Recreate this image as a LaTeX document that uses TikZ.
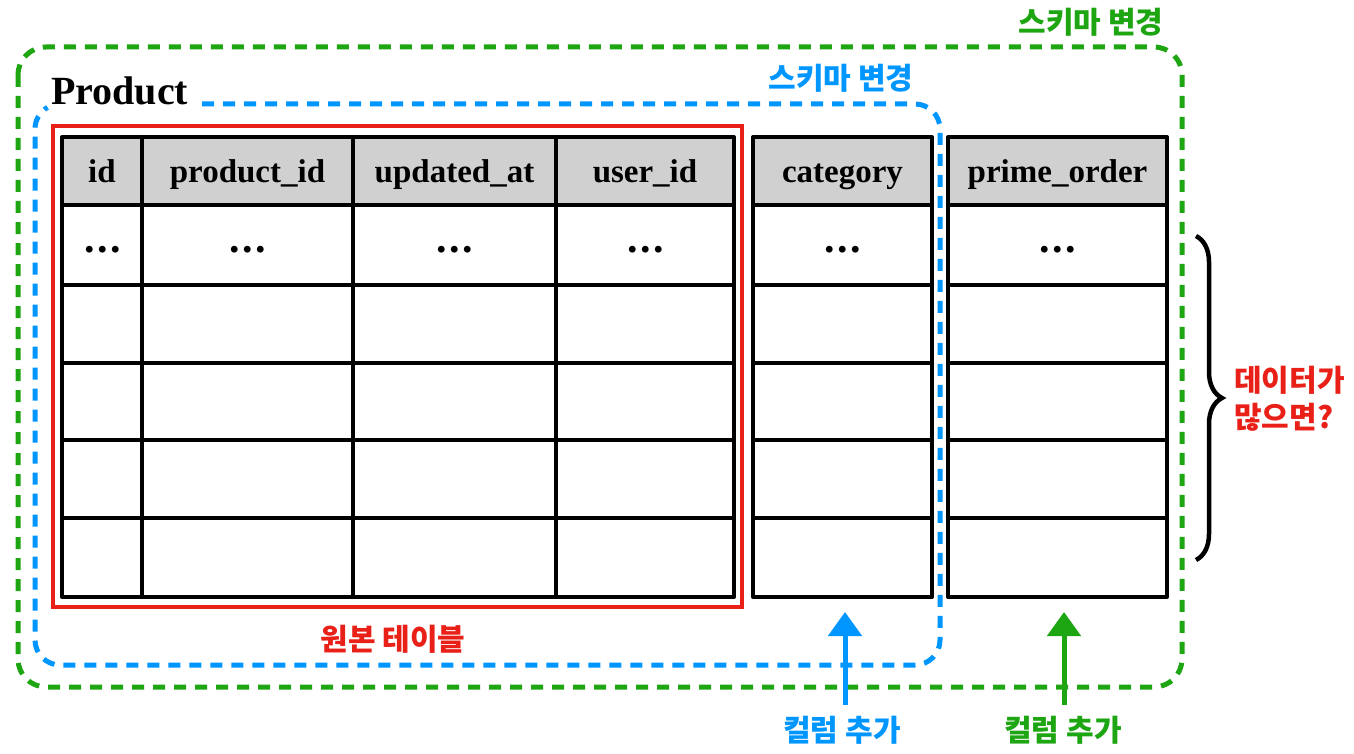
\documentclass[tikz,border=0pt]{standalone}
\usepackage{fontspec}
\setmainfont{Liberation Serif}
\newfontfamily\kr{Noto Sans CJK KR}
\usetikzlibrary{arrows.meta,decorations.pathreplacing}
\definecolor{grn}{RGB}{30,165,18}
\definecolor{blu}{RGB}{0,150,255}
\definecolor{rd}{RGB}{232,32,24}
\definecolor{hdr}{RGB}{208,208,208}
\begin{document}
\begin{tikzpicture}[x=1pt,y=-1pt,
  grid/.style={line width=4pt, line join=round, line cap=round},
  hd/.style={font=\fontsize{33}{33}\selectfont\bfseries, anchor=base, inner sep=0pt},
  dotsty/.style={font=\fontsize{42}{42}\selectfont\bfseries, anchor=base, inner sep=0pt},
  krlab/.style={font=\kr\bfseries\fontsize{30}{37}\selectfont, inner sep=0pt},
  gdash/.style={grn, line width=5pt, dash pattern=on 12pt off 9pt},
  bdash/.style={blu, line width=5pt, dash pattern=on 12pt off 9pt},
  addarrow/.style={line width=5pt, -{Triangle[width=33pt,length=24pt]}},
]
\useasboundingbox (0,0) rectangle (1354,754);
\fill[white] (0,0) rectangle (1354,754);

% green outer frame
\draw[gdash, rounded corners=28pt] (18,47) rectangle (1182,687);
% blue frame
\draw[bdash] (202,104) -- (915,104) arc[start angle=-90,end angle=0,radius=25]
  -- (940,640) arc[start angle=0,end angle=90,radius=25]
  -- (60,665) arc[start angle=90,end angle=180,radius=25]
  -- (35,129) arc[start angle=180,end angle=240,radius=25];

% main table
\fill[hdr] (62,137) rectangle (734,205);
\draw[grid] (62,137) rectangle (734,597);
\foreach \x in {142,353,556} \draw[grid] (\x,137) -- (\x,597);
\foreach \y in {205,285,363,440,518} \draw[grid] (62,\y) -- (734,\y);
% category table
\fill[hdr] (753,137) rectangle (932,205);
\draw[grid] (753,137) rectangle (932,597);
\foreach \y in {205,285,363,440,518} \draw[grid] (753,\y) -- (932,\y);
% prime_order table
\fill[hdr] (948,137) rectangle (1167,205);
\draw[grid] (948,137) rectangle (1167,597);
\foreach \y in {205,285,363,440,518} \draw[grid] (948,\y) -- (1167,\y);

% red original table frame
\draw[rd, line width=4.5pt] (53,126) rectangle (742,607);

% headers
\node[hd] (hid) at (102,183) {id};
\node[hd] (hpid) at (247.5,183) {product\_id};
\node[hd] (hupd) at (454.5,183) {updated\_at};
\node[hd] (huid) at (645,183) {user\_id};
\node[hd] (hcat) at (842.5,183) {category};
\node[hd] (hpri) at (1057.5,183) {prime\_order};

% dots
\node[dotsty] (d1) at (103,252) {.\kern2.5pt.\kern2.5pt.};
\node[dotsty] (d2) at (247.5,252) {.\kern2.5pt.\kern2.5pt.};
\node[dotsty] (d3) at (454.5,252) {.\kern2.5pt.\kern2.5pt.};
\node[dotsty] (d4) at (646,252) {.\kern2.5pt.\kern2.5pt.};
\node[dotsty] (d5) at (843,252) {.\kern2.5pt.\kern2.5pt.};
\node[dotsty] (d6) at (1057.5,252) {.\kern2.5pt.\kern2.5pt.};

% title
\node[font=\fontsize{40}{40}\selectfont\bfseries, anchor=base west, inner sep=0pt] (prod) at (51,105) {Product};

% brace
\draw[line width=4.5pt, decorate, decoration={brace, amplitude=26pt}] (1196,236) -- (1196,560);

% arrows
\coordinate (bb) at (845,705);
\coordinate (bt) at (845,612);
\coordinate (gb) at (1064,705);
\coordinate (gt) at (1064,612);
\draw[addarrow, blu] (bb) -- (bt);
\draw[addarrow, grn] (gb) -- (gt);

% labels
\node[krlab, text=grn] (g1) at (1091,22) {스키마 변경};
\node[krlab, text=blu] (b1) at (841,78) {스키마 변경};
\node[krlab, text=rd] (r1) at (393,639) {원본 테이블};
\node[krlab, text=rd, align=left, anchor=west] (r2) at (1234,399) {데이터가\\많으면?};
\node[krlab, text=blu] (b2) at (842,730) {컬럼 추가};
\node[krlab, text=grn] (g2) at (1063,730) {컬럼 추가};
\end{tikzpicture}
\end{document}
